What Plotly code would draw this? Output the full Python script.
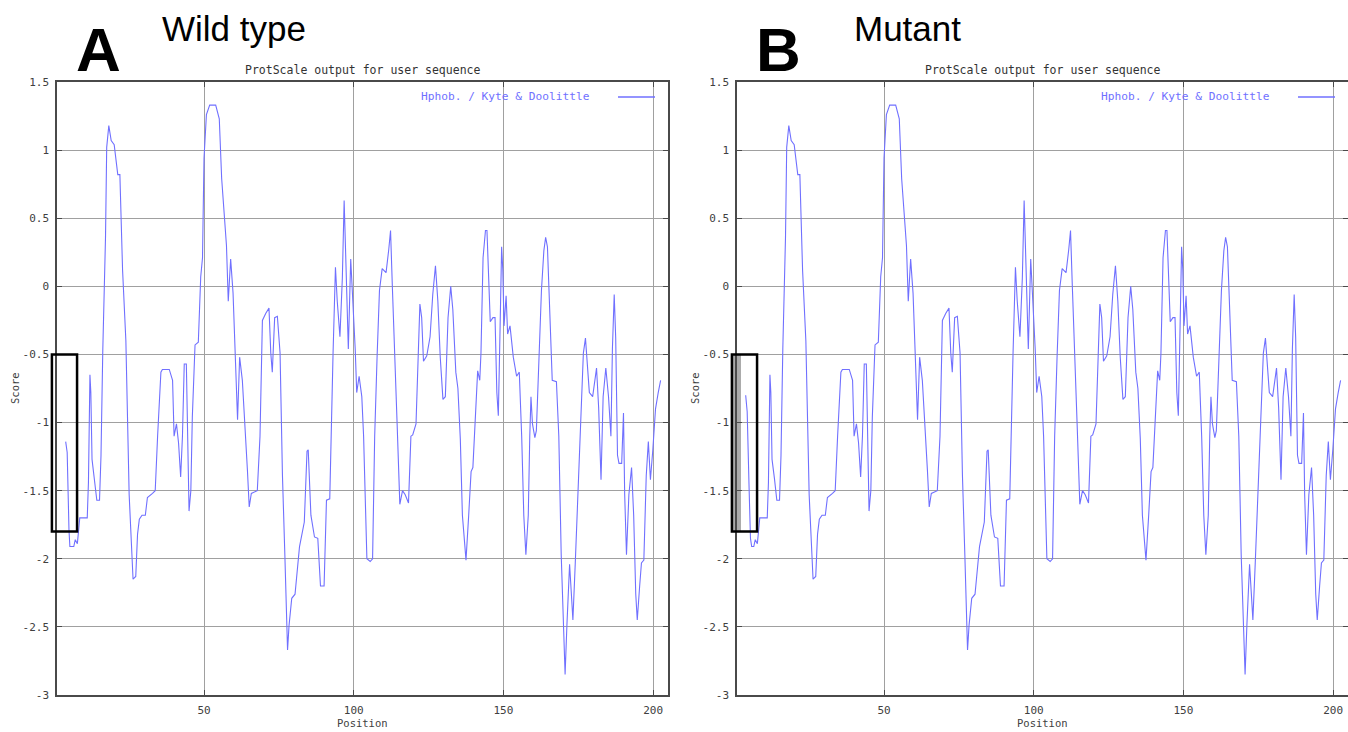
import plotly.graph_objects as go

# ---------------- data ----------------
# Kyte & Doolittle hydropathy profile; the first few points differ between
# wild type and mutant, the rest of the profile is identical.
wt_start_pos = [3.8, 4.3, 4.9, 5.2]
wt_start_score = [-1.14, -1.22, -1.79, -1.91]

mut_start_pos = [3.8, 4.3, 4.9, 5.4, 5.8]
mut_start_score = [-0.80, -0.92, -1.45, -1.85, -1.91]

common_pos = [
    6.5, 7.0, 7.7, 8.5, 11.0, 11.4, 11.9, 12.2, 12.6, 13.4, 14.2, 15.1, 15.6,
    16.2, 17.1, 17.5, 18.2, 19.0, 20.0, 21.2, 21.9, 22.8, 23.9, 25.0, 25.9,
    26.3, 27.2, 27.8, 28.4, 29.3, 30.4, 31.1, 32.8, 33.7, 34.5, 35.6, 36.1,
    38.4, 39.5, 40.0, 40.8, 41.5, 42.2, 42.8, 43.4, 44.1, 45.0, 45.6, 46.1,
    47.0, 48.1, 48.9, 49.5, 50.0, 50.8, 51.9, 53.9, 55.1, 55.9, 56.7, 57.5,
    58.1, 58.9, 59.7, 61.2, 61.9, 62.8, 64.5, 65.1, 65.8, 67.8, 68.7, 69.5,
    70.6, 71.7, 72.3, 72.8, 73.6, 74.5, 75.4, 76.2, 77.0, 77.9, 78.4, 79.3,
    80.4, 81.9, 83.5, 84.4, 84.8, 85.7, 86.9, 88.0, 88.9, 90.1, 90.9, 92.0,
    93.1, 93.9, 94.5, 95.4, 96.2, 96.8, 97.4, 98.2, 99.0, 99.5, 100.5, 101.0,
    101.8, 102.7, 103.3, 104.4, 105.5, 106.3, 107.0, 107.8, 108.6, 109.5,
    110.8, 111.7, 112.3, 112.9, 113.8, 114.5, 115.4, 116.3, 117.2, 118.3,
    119.1, 119.7, 120.8, 121.6, 122.1, 122.7, 123.3, 124.4, 125.5, 126.4,
    127.3, 128.1, 128.9, 129.8, 130.6, 131.5, 132.4, 133.1, 134.1, 134.8,
    135.6, 136.3, 137.0, 137.5, 138.4, 139.2, 139.8, 140.6, 141.4, 142.1,
    142.5, 143.2, 144.0, 144.5, 145.0, 145.6, 146.5, 147.2, 147.8, 148.3,
    148.9, 149.4, 149.8, 150.2, 150.9, 151.4, 152.2, 153.3, 154.4, 155.3,
    156.1, 156.8, 157.5, 158.3, 158.8, 159.2, 159.7, 160.5, 161.0, 161.9,
    162.7, 163.5, 164.1, 164.7, 165.5, 166.3, 167.7, 168.5, 169.3, 170.1,
    170.6, 171.2, 172.1, 172.7, 173.2, 174.0, 174.9, 176.0, 176.7, 177.4,
    177.9, 178.7, 179.8, 180.7, 181.1, 181.8, 182.6, 183.3, 184.2, 185.1,
    185.9, 186.4, 187.0, 187.5, 188.1, 188.6, 189.5, 190.1, 190.5, 191.1,
    191.9, 192.8, 193.5, 194.2, 194.7, 195.5, 196.1, 196.9, 197.7, 198.4,
    199.1, 199.9, 200.8, 201.7, 202.5,
]
common_score = [
    -1.91, -1.86, -1.89, -1.70, -1.70, -1.44, -0.65, -0.78, -1.27, -1.41, -1.57, -1.57, -1.24,
    -0.46, 0.36, 1.02, 1.18, 1.07, 1.04, 0.82, 0.82, 0.12, -0.40, -1.53, -2.02,
    -2.15, -2.13, -1.82, -1.71, -1.68, -1.68, -1.55, -1.52, -1.50, -1.10, -0.63, -0.61,
    -0.61, -0.69, -1.10, -1.01, -1.15, -1.40, -1.10, -0.57, -0.57, -1.65, -1.50, -0.96,
    -0.43, -0.41, 0.07, 0.21, 0.94, 1.26, 1.33, 1.33, 1.23, 0.79, 0.53, 0.30,
    -0.11, 0.20, -0.05, -0.98, -0.52, -0.69, -1.35, -1.62, -1.52, -1.50, -1.10, -0.25,
    -0.20, -0.16, -0.49, -0.63, -0.23, -0.22, -0.49, -1.39, -1.97, -2.67, -2.49, -2.29,
    -2.26, -1.91, -1.73, -1.21, -1.20, -1.68, -1.84, -1.85, -2.20, -2.20, -1.57, -1.56,
    -0.49, 0.14, -0.11, -0.37, 0.06, 0.63, 0.17, -0.46, 0.20, 0.00, -0.46, -0.78,
    -0.66, -0.81, -1.10, -2.00, -2.02, -2.00, -1.10, -0.52, -0.03, 0.13,
    0.10, 0.27, 0.41, 0.00, -0.52, -1.01, -1.60, -1.50, -1.53, -1.59,
    -1.10, -1.09, -1.01, -0.52, -0.13, -0.23, -0.55, -0.51, -0.37, -0.06,
    0.15, -0.11, -0.52, -0.83, -0.81, -0.23, 0.00, -0.17, -0.63, -0.75,
    -1.12, -1.68, -1.92, -2.01, -1.68, -1.36, -1.33, -1.01, -0.62, -0.69,
    -0.49, 0.21, 0.41, 0.41, 0.06, -0.26, -0.23, -0.23, -0.78, -0.95,
    -0.29, 0.29, 0.12, -0.29, -0.07, -0.35, -0.29, -0.52, -0.66, -0.63,
    -1.10, -1.68, -1.97, -1.68, -1.10, -0.81, -1.01, -1.11, -1.06, -0.52,
    -0.03, 0.26, 0.36, 0.29, -0.23, -0.69, -0.70, -1.10, -1.97, -2.55,
    -2.85, -2.49, -2.04, -2.26, -2.45, -2.03, -1.50, -0.81, -0.49, -0.38,
    -0.52, -0.78, -0.81, -0.63, -0.60, -0.89, -1.42, -0.81, -0.60, -0.81,
    -1.10, -0.46, -0.06, -0.38, -1.24, -1.30, -1.30, -0.93, -1.53, -1.97,
    -1.53, -1.33, -1.68, -2.26, -2.45, -2.20, -2.03, -2.01, -1.39, -1.14,
    -1.42, -1.20, -0.90, -0.78, -0.69,
]

wt_pos = wt_start_pos + common_pos
wt_score = wt_start_score + common_score
mut_pos = mut_start_pos + common_pos
mut_score = mut_start_score + common_score

x_tick_vals = [50, 100, 150, 200]
x_tick_text = ["50", "100", "150", "200"]
y_tick_vals = [1.5, 1, 0.5, 0, -0.5, -1, -1.5, -2, -2.5, -3]
y_tick_text = ["1.5", "1", "0.5", "0", "-0.5", "-1", "-1.5", "-2", "-2.5", "-3"]

panel_letters = ["A", "B"]
panel_titles = ["Wild type", "Mutant"]
plot_title = "ProtScale output for user sequence"
legend_label = "Hphob. / Kyte & Doolittle"
x_label = "Position"
y_label = "Score"

# highlighted window (box) in data units
box_x = [-0.8, 7.6]
box_y = [-1.8, -0.5]

# ---------------- layout helpers ----------------
W, H = 1348, 732
X_RANGE = [1, 205]
Y_RANGE = [-3, 1.5]
LINE_COLOR = "rgb(112,112,255)"
MONO = "DejaVu Sans Mono"


def px(p):
    return p / W


def py(p):
    return 1 - p / H


x_domains = [[px(57.3), px(668.1)], [px(737.3), 1.0]]
x_ranges = [X_RANGE, [1, 1 + (1348 - 737.3) / 2.994]]
y_domain = [py(695), py(82)]


def data_to_paper_x(v, i):
    d0, d1 = x_domains[i]
    r0, r1 = x_ranges[i]
    return d0 + (v - r0) / (r1 - r0) * (d1 - d0)


def data_to_paper_y(v):
    d0, d1 = y_domain
    r0, r1 = Y_RANGE
    return d0 + (v - r0) / (r1 - r0) * (d1 - d0)


fig = go.Figure()
fig.add_trace(go.Scatter(x=wt_pos, y=wt_score, mode="lines",
                         line=dict(color=LINE_COLOR, width=1.1),
                         xaxis="x", yaxis="y", showlegend=False))
fig.add_trace(go.Scatter(x=mut_pos, y=mut_score, mode="lines",
                         line=dict(color=LINE_COLOR, width=1.1),
                         xaxis="x2", yaxis="y2", showlegend=False))

tickfont = dict(family=MONO, size=11, color="#404040")
axis_common = dict(
    showgrid=True, gridcolor="#a0a0a0", gridwidth=1,
    showline=True, linecolor="#4a4a4a", linewidth=2, mirror="allticks",
    ticks="inside", ticklen=5, tickcolor="#4a4a4a", tickwidth=1,
    zeroline=False, tickfont=tickfont, automargin=False, fixedrange=True,
)

layout = dict(
    width=W, height=H,
    margin=dict(l=0, r=0, t=0, b=0),
    paper_bgcolor="white", plot_bgcolor="white",
    showlegend=False,
)
for i, (xa, ya) in enumerate([("xaxis", "yaxis"), ("xaxis2", "yaxis2")]):
    xid = "x" if i == 0 else "x2"
    yid = "y" if i == 0 else "y2"
    layout[xa] = dict(axis_common, domain=x_domains[i], range=x_ranges[i],
                      tickvals=x_tick_vals, ticktext=x_tick_text, anchor=yid,
                      ticklabelstandoff=4)
    layout[ya] = dict(axis_common, domain=y_domain, range=Y_RANGE,
                      tickvals=y_tick_vals, ticktext=y_tick_text, anchor=xid,
                      ticklabelstandoff=4)
fig.update_layout(**layout)

offsets = [0, 680]
title_x = [160, 852]
annotations = []
shapes = []
for i in range(2):
    off = offsets[i]
    cx = (x_domains[0][0] + x_domains[0][1]) / 2 + px(off)
    # panel letter
    annotations.append(dict(text="<b>%s</b>" % panel_letters[i], x=px(98 + off), y=py(49),
                            xref="paper", yref="paper", showarrow=False,
                            xanchor="center", yanchor="middle",
                            font=dict(family="Liberation Sans", size=62, color="black")))
    # panel title
    annotations.append(dict(text=panel_titles[i], x=px(title_x[i]), y=py(29),
                            xref="paper", yref="paper", showarrow=False,
                            xanchor="left", yanchor="middle",
                            font=dict(family="Liberation Sans", size=35, color="black")))
    # plot title
    annotations.append(dict(text=plot_title, x=cx, y=py(70),
                            xref="paper", yref="paper", showarrow=False,
                            xanchor="center", yanchor="middle",
                            font=dict(family=MONO, size=11.5, color="#333333")))
    # legend text
    annotations.append(dict(text=legend_label, x=px(592 + off), y=py(97),
                            xref="paper", yref="paper", showarrow=False,
                            xanchor="right", yanchor="middle",
                            font=dict(family=MONO, size=11.2, color=LINE_COLOR)))
    shapes.append(dict(type="line", xref="paper", yref="paper",
                       x0=px(618 + off), x1=px(655 + off), y0=py(97), y1=py(97),
                       line=dict(color=LINE_COLOR, width=1.5)))
    # axis titles
    annotations.append(dict(text=x_label, x=cx, y=py(723),
                            xref="paper", yref="paper", showarrow=False,
                            xanchor="center", yanchor="middle",
                            font=dict(family=MONO, size=10.5, color="#404040")))
    annotations.append(dict(text=y_label, x=px(15 + off), y=py(388),
                            xref="paper", yref="paper", showarrow=False, textangle=-90,
                            xanchor="center", yanchor="middle",
                            font=dict(family=MONO, size=10.5, color="#404040")))
    # highlighted window
    if i == 1:
        shapes.append(dict(type="rect", xref="paper", yref="paper",
                           x0=px(733), x1=px(741),
                           y0=data_to_paper_y(box_y[0]), y1=data_to_paper_y(box_y[1]),
                           line=dict(width=0), fillcolor="rgba(150,150,150,0.8)",
                           layer="below"))
    shapes.append(dict(type="rect", xref="paper", yref="paper",
                       x0=data_to_paper_x(box_x[0], i), x1=data_to_paper_x(box_x[1], i),
                       y0=data_to_paper_y(box_y[0]), y1=data_to_paper_y(box_y[1]),
                       line=dict(color="black", width=2.5)))

fig.update_layout(annotations=annotations, shapes=shapes)

fig.write_html("out.html", config={"displayModeBar": False},
               post_script="document.body.style.margin='0';document.body.style.overflow='hidden';")
